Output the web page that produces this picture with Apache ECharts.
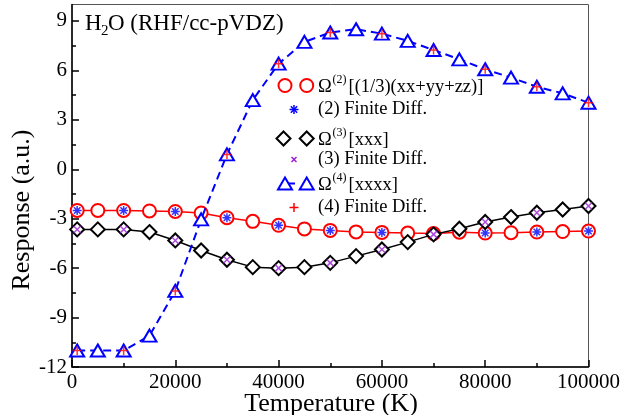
<!DOCTYPE html>
<html><head><meta charset="utf-8">
<script src="https://cdn.jsdelivr.net/npm/echarts@6/dist/echarts.min.js"></script>
<style>html,body{margin:0;padding:0;background:#fff}#c{width:623px;height:415px}</style>
</head><body><div id="c"></div>
<script>
// ---- data ----
const temps = [1000,5000,10000,15000,20000,25000,30000,35000,40000,45000,50000,55000,60000,65000,70000,75000,80000,85000,90000,95000,100000];
const omega2 = [-2.5,-2.5,-2.5,-2.53,-2.56,-2.65,-2.94,-3.16,-3.4,-3.62,-3.71,-3.8,-3.83,-3.87,-3.9,-3.82,-3.87,-3.85,-3.81,-3.78,-3.75];
const omega3 = [-3.65,-3.65,-3.65,-3.81,-4.32,-4.93,-5.49,-5.94,-6.0,-5.94,-5.68,-5.27,-4.87,-4.42,-3.95,-3.61,-3.2,-2.9,-2.64,-2.44,-2.23];
const omega4 = [-11.0,-11.0,-11.0,-10.1,-7.38,-3.04,0.9,4.2,6.41,7.73,8.3,8.5,8.23,7.79,7.24,6.67,6.07,5.56,5.01,4.61,4.04];
const fdTemps = [1000,10000,20000,30000,40000,50000,60000,70000,80000,90000,100000];
const fd2 = [-2.5,-2.5,-2.56,-2.94,-3.4,-3.71,-3.83,-3.9,-3.87,-3.81,-3.75];
const fd3 = [-3.65,-3.65,-4.32,-5.49,-6.0,-5.68,-4.87,-3.95,-3.2,-2.64,-2.23];
const fd4 = [-11.0,-11.0,-7.38,0.9,6.41,8.3,8.23,7.24,6.07,5.01,4.04];
const xMajor = [0,20000,40000,60000,80000,100000];
const xMinor = [10000,30000,50000,70000,90000];
const yMajor = [-12,-9,-6,-3,0,3,6,9];
const yMinor = [-10.5,-7.5,-4.5,-1.5,1.5,4.5,7.5];
const legendLabels = [
  ['Ω','(2)','[(1/3)(xx+yy+zz)]'],
  '(2) Finite Diff.',
  ['Ω','(3)','[xxx]'],
  '(3) Finite Diff.',
  ['Ω','(4)','[xxxx]'],
  '(4) Finite Diff.'
];
// ---- styling ----
const FONT = '"Liberation Serif","Times New Roman",serif';
const RED = '#ff0000', BLUE = '#0000ff', BLACK = '#000000', PURPLE = '#9a1fd6';
const ASTER = 'path://M0,-1L0,1M-1,0L1,0M-0.72,-0.72L0.72,0.72M-0.72,0.72L0.72,-0.72';
const PLUS = 'path://M0,-1L0,1M-1,0L1,0';
const CROSS = 'path://M-1,-1L1,1M-1,1L1,-1';

const pair = (xs, ys) => xs.map((x, i) => [x, ys[i]]);

function starLines(cx, cy, r, angles, color, lw) {
  return angles.map(a => {
    const t = a * Math.PI / 180;
    return {type:'line', silent:true, z:100,
      shape:{x1:cx - r*Math.cos(t), y1:cy - r*Math.sin(t), x2:cx + r*Math.cos(t), y2:cy + r*Math.sin(t)},
      style:{stroke:color, lineWidth:lw}};
  });
}
function txt(x, y, s, size, extra) {
  return Object.assign({type:'text', z:101, x:x, y:y, silent:true,
    style:{text:s, align:'left', verticalAlign:'middle', font:size + 'px ' + FONT, fill:'#000'}}, extra || {});
}

const chart = echarts.init(document.getElementById('c'), null, {renderer:'canvas'});

const xAxisBase = {type:'value', min:0, max:100000, gridIndex:0, splitLine:{show:false}};
const yAxisBase = {type:'value', min:-12, max:10, gridIndex:0, splitLine:{show:false}};

// legend graphics
const lg = [];
const sx1 = 285, sx2 = 306.7, fdx = 294, tx = 318;
const rowsY = [87, 109.5, 140, 159.5, 185, 207.5];
// row 1 circles
[sx1, sx2].forEach(x => lg.push({type:'circle', z:101, shape:{cx:x, cy:rowsY[0]-1.5, r:6.5}, style:{fill:'#fff', stroke:RED, lineWidth:2}}));
// row 3 diamonds
[sx1 - 1.5, sx2].forEach(x => { const y = rowsY[2]-1.5; lg.push({type:'polygon', z:101, shape:{points:[[x, y-7],[x+7, y],[x, y+7],[x-7, y]]}, style:{fill:'#fff', stroke:BLACK, lineWidth:2}}); });
// row 5 triangles with a dash stub
lg.push({type:'line', z:100, shape:{x1:sx1, y1:rowsY[4]-1.5, x2:sx1 + 10, y2:rowsY[4]-1.5}, style:{stroke:BLUE, lineWidth:2}});
[sx1, sx2].forEach(x => { const y = rowsY[4]-1.5; lg.push({type:'polygon', z:101, shape:{points:[[x, y-6],[x+7, y+6],[x-7, y+6]]}, style:{fill:'#fff', stroke:BLUE, lineWidth:2}}); });
// FD markers
lg.push(...starLines(fdx, rowsY[1], 4.5, [0,45,90,135], BLUE, 1.5));
lg.push(...starLines(fdx, rowsY[3], 3.5, [45,135], PURPLE, 1.5));
lg.push(...starLines(fdx, rowsY[5], 4.5, [0,90], RED, 1.5));
// legend texts
legendLabels.forEach((lab, i) => {
  if (Array.isArray(lab)) {
    lg.push(txt(tx, rowsY[i], lab[0], 18.5));
    lg.push(txt(tx + 14.5, rowsY[i] - 7, lab[1], 12));
    lg.push(txt(tx + 30.5, rowsY[i], lab[2], 18.5));
  } else {
    lg.push(txt(tx, rowsY[i], lab, 18.5));
  }
});
// title
lg.push(txt(85, 23.5, 'H', 23));
lg.push(txt(101, 31, '2', 15));
lg.push(txt(108, 23.5, 'O (RHF/cc-pVDZ)', 23));
// axis titles
lg.push({type:'text', z:101, x:331, y:404, style:{text:'Temperature (K)', align:'center', verticalAlign:'middle', font:'26px ' + FONT, fill:'#000'}});
lg.push({type:'text', z:101, x:22, y:210, rotation:Math.PI/2, style:{text:'Response (a.u.)', align:'center', verticalAlign:'middle', font:'26px ' + FONT, fill:'#000'}});

const plain = v => String(v);

const option = {
  backgroundColor:'#fff',
  animation:false,
  grid:{left:72, right:32, top:4.5, bottom:48, show:true, borderColor:'#555', borderWidth:1, backgroundColor:'transparent'},
  xAxis:[
    Object.assign({}, xAxisBase, {
      axisLine:{show:true, onZero:false, lineStyle:{color:'#000', width:1.5}},
      axisTick:{show:true, inside:true, length:7, lineStyle:{color:'#000', width:1.5}, customValues:xMajor},
      axisLabel:{show:true, customValues:xMajor, formatter:plain, fontFamily:FONT, fontSize:21, color:'#000', margin:5}
    }),
    Object.assign({}, xAxisBase, {position:'bottom',
      axisLine:{show:false, onZero:false},
      axisTick:{show:true, inside:true, length:4, lineStyle:{color:'#000', width:1.5}, customValues:xMinor},
      axisLabel:{show:false}
    })
  ],
  yAxis:[
    Object.assign({}, yAxisBase, {
      axisLine:{show:true, onZero:false, lineStyle:{color:'#000', width:1.5}},
      axisTick:{show:true, inside:true, length:7, lineStyle:{color:'#000', width:1.5}, customValues:yMajor},
      axisLabel:{show:true, customValues:yMajor, formatter:plain, fontFamily:FONT, fontSize:21, color:'#000', margin:5}
    }),
    Object.assign({}, yAxisBase, {position:'left',
      axisLine:{show:false, onZero:false},
      axisTick:{show:true, inside:true, length:4, lineStyle:{color:'#000', width:1.5}, customValues:yMinor},
      axisLabel:{show:false}
    })
  ],
  series:[
    {name:'Ω(2)', type:'line', data:pair(temps, omega2), symbol:'circle', symbolSize:13,
     lineStyle:{color:RED, width:1.5}, itemStyle:{color:'#fff', borderColor:RED, borderWidth:2}, z:2},
    {name:'(2) FD', type:'scatter', data:pair(fdTemps, fd2), symbol:ASTER, symbolSize:9,
     itemStyle:{color:'rgba(0,0,0,0)', borderColor:BLUE, borderWidth:1.5}, z:3},
    {name:'Ω(3)', type:'line', data:pair(temps, omega3), symbol:'diamond', symbolSize:[14,14],
     lineStyle:{color:BLACK, width:1.5}, itemStyle:{color:'#fff', borderColor:BLACK, borderWidth:2}, z:4},
    {name:'(3) FD', type:'scatter', data:pair(fdTemps, fd3), symbol:CROSS, symbolSize:7,
     itemStyle:{color:'rgba(0,0,0,0)', borderColor:PURPLE, borderWidth:1.5}, z:5},
    {name:'Ω(4)', type:'line', data:pair(temps, omega4), symbol:'triangle', symbolSize:[14,12],
     lineStyle:{color:BLUE, width:2, type:[8,5]}, itemStyle:{color:'#fff', borderColor:BLUE, borderWidth:2}, z:6},
    {name:'(4) FD', type:'scatter', data:pair(fdTemps, fd4), symbol:PLUS, symbolSize:9,
     itemStyle:{color:'rgba(0,0,0,0)', borderColor:RED, borderWidth:1.5}, z:7}
  ],
  graphic:lg
};
chart.setOption(option);
</script></body></html>
